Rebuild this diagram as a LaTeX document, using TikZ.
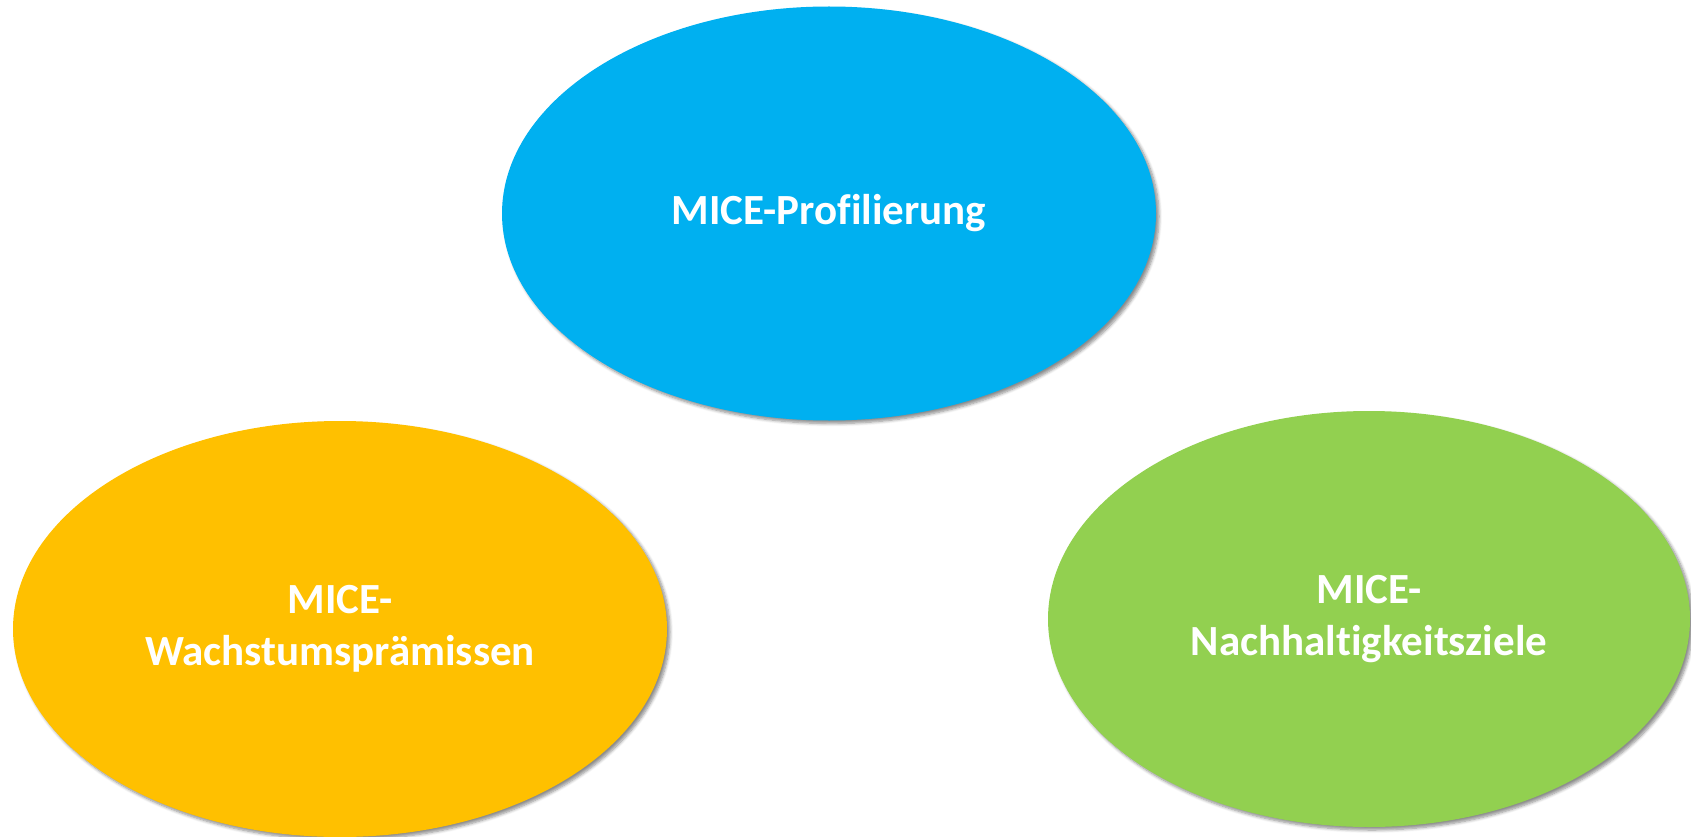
\documentclass[tikz,border=0pt]{standalone}
\usepackage{fontspec}
\setmainfont[Ligatures=NoCommon]{Carlito}
\usetikzlibrary{shapes.geometric,shadows.blur}
\definecolor{miceblue}{HTML}{00B0F0}
\definecolor{miceorange}{HTML}{FFC000}
\definecolor{micegreen}{HTML}{92D050}
\tikzset{
  blob/.style={ellipse, inner sep=0pt, draw=none, text=white, align=center,
    font=\fontsize{43}{52}\selectfont\bfseries,
    blur shadow={shadow xshift=3pt, shadow yshift=-3pt, shadow blur steps=6, shadow opacity=45, shadow blur radius=3pt}}
}
\begin{document}
\begin{tikzpicture}[x=1pt,y=-1pt]
\useasboundingbox (0,0) rectangle (1691,837);
\node[blob, fill=miceblue, minimum width=654pt, minimum height=414pt] (prof) at (829,213.5) {MICE-Profilierung};
\node[blob, fill=miceorange, minimum width=654pt, minimum height=416pt] (wachs) at (340,629) {MICE-\\Wachstumsprämissen};
\node[blob, fill=micegreen, minimum width=642pt, minimum height=416pt] (nach) at (1369,619) {MICE-\\Nachhaltigkeitsziele};
\end{tikzpicture}
\end{document}
